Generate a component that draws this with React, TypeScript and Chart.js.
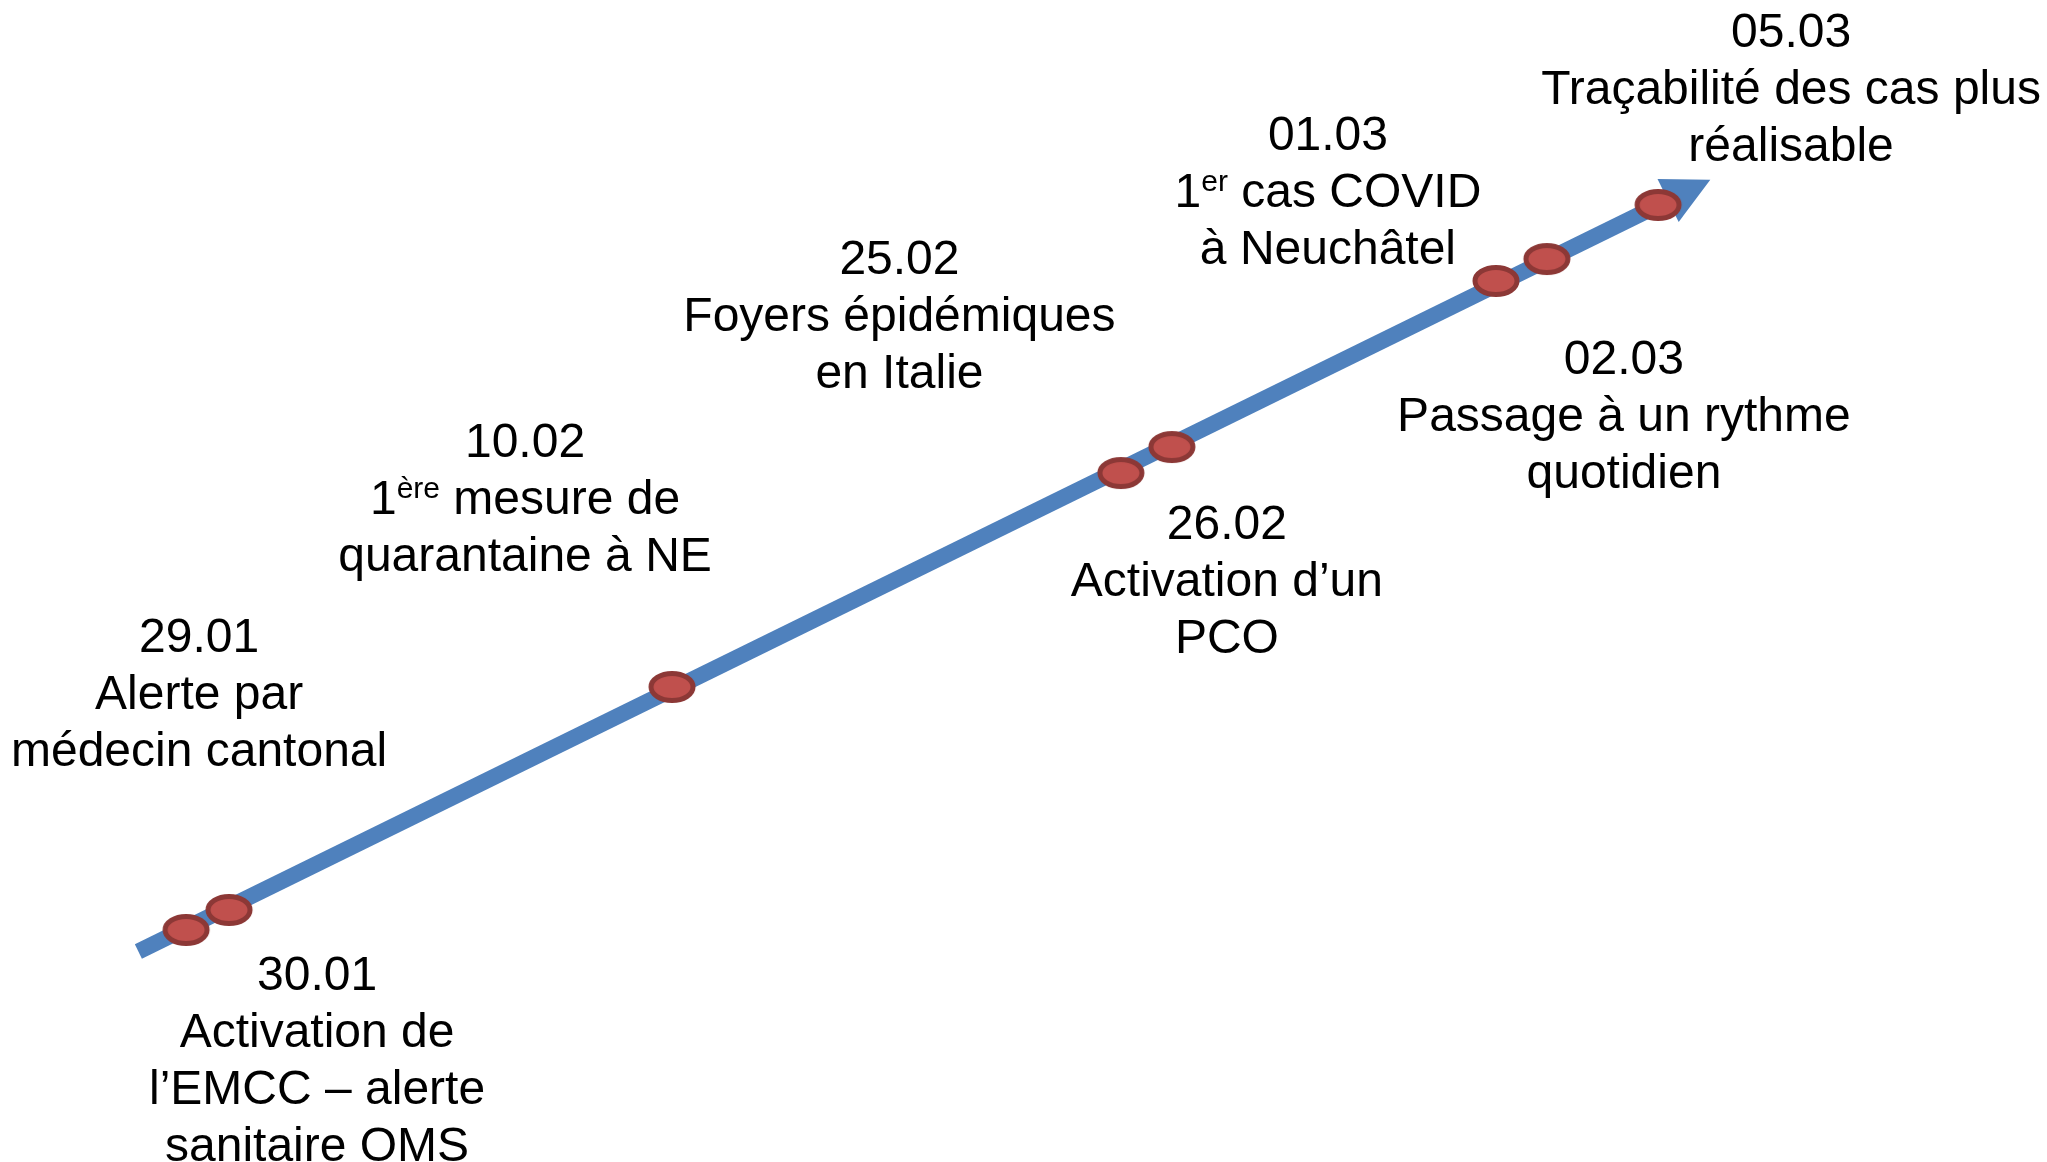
import { useEffect, useRef } from 'react';
import { Chart, registerables } from 'chart.js';

Chart.register(...registerables);

// ---- Data (hidden scale units 0..100 on both axes) ----
const eventDates = ['29.01', '30.01', '10.02', '25.02', '26.02', '01.03', '02.03', '05.03'];
const eventTexts: string[][] = [
  ['Alerte par', 'médecin cantonal'],
  ['Activation de', 'l’EMCC – alerte', 'sanitaire OMS'],
  ['1{ère} mesure de', 'quarantaine à NE'],
  ['Foyers épidémiques', 'en Italie'],
  ['Activation d’un', 'PCO'],
  ['1{er} cas COVID', 'à Neuchâtel'],
  ['Passage à un rythme', 'quotidien'],
  ['Traçabilité des cas plus', 'réalisable'],
];
const markerX = [9.09, 11.19, 32.83, 54.76, 57.25, 73.08, 75.57, 81.0];
const markerY = [19.97, 21.69, 40.88, 59.29, 61.53, 75.82, 77.71, 82.36];
const axisX = [6.76, 81.49];
const axisY = [18.12, 82.75];

// ---- Layout / style ----
const W = 2047;
const H = 1162;
const BLUE = '#4F81BD';
const RED = '#C0504D';
const RED_DARK = '#8C3836';
const FONT_FAMILY = '"Liberation Sans", Arial, sans-serif';
const FONT_SIZE = 48;
const SUP_SIZE = 30;
const SUP_RAISE = 16;
const LINE_HEIGHT = 57;
// label anchor offsets (px) from its marker: [centre x, first baseline y]
const labelOffsets: [number, number][] = [
  [13, -278],
  [88, 80],
  [-147, -229.5],
  [-221.5, -199.5],
  [55, 92],
  [-168, -131],
  [77, 115],
  [133, -158],
];

function makeMarker(): HTMLCanvasElement {
  const c = document.createElement('canvas');
  c.width = 50;
  c.height = 34;
  const ctx = c.getContext('2d')!;
  ctx.beginPath();
  ctx.ellipse(25, 17, 21, 13.5, 0, 0, Math.PI * 2);
  ctx.fillStyle = RED;
  ctx.fill();
  ctx.lineWidth = 5;
  ctx.strokeStyle = RED_DARK;
  ctx.stroke();
  return c;
}

type Seg = { t: string; sup: boolean };
function parseLine(s: string): Seg[] {
  const out: Seg[] = [];
  const re = /\{([^}]*)\}/g;
  let last = 0;
  let m: RegExpExecArray | null;
  while ((m = re.exec(s))) {
    if (m.index > last) out.push({ t: s.slice(last, m.index), sup: false });
    out.push({ t: m[1], sup: true });
    last = m.index + m[0].length;
  }
  if (last < s.length) out.push({ t: s.slice(last), sup: false });
  return out;
}

const arrowPlugin = {
  id: 'arrowHead',
  afterDatasetDraw(chart: any, args: any) {
    if (args.index !== 1) return;
    const pts = args.meta.data;
    if (!pts || pts.length < 2) return;
    const p0 = pts[pts.length - 2];
    const p1 = pts[pts.length - 1];
    const a = Math.atan2(p1.y - p0.y, p1.x - p0.x);
    const L = 47;
    const HW = 24;
    const ctx = chart.ctx;
    ctx.save();
    ctx.beginPath();
    ctx.moveTo(p1.x + L * Math.cos(a), p1.y + L * Math.sin(a));
    ctx.lineTo(p1.x - HW * Math.sin(a), p1.y + HW * Math.cos(a));
    ctx.lineTo(p1.x + HW * Math.sin(a), p1.y - HW * Math.cos(a));
    ctx.closePath();
    ctx.fillStyle = BLUE;
    ctx.fill();
    ctx.restore();
  },
};

const labelPlugin = {
  id: 'eventLabels',
  afterDraw(chart: any) {
    const ctx = chart.ctx;
    const xs = chart.scales.x;
    const ys = chart.scales.y;
    ctx.save();
    ctx.fillStyle = '#000000';
    ctx.textBaseline = 'alphabetic';
    ctx.textAlign = 'left';
    const mainFont = `${FONT_SIZE}px ${FONT_FAMILY}`;
    const supFont = `${SUP_SIZE}px ${FONT_FAMILY}`;
    eventDates.forEach((d, i) => {
      const px = xs.getPixelForValue(markerX[i]) + labelOffsets[i][0];
      const py = ys.getPixelForValue(markerY[i]) + labelOffsets[i][1];
      const lines = [d, ...eventTexts[i]];
      lines.forEach((ln, k) => {
        const segs = parseLine(ln);
        let total = 0;
        const widths = segs.map((s) => {
          ctx.font = s.sup ? supFont : mainFont;
          const w = ctx.measureText(s.t).width;
          total += w;
          return w;
        });
        let x = px - total / 2;
        const y = py + k * LINE_HEIGHT;
        segs.forEach((s, j) => {
          ctx.font = s.sup ? supFont : mainFont;
          ctx.fillText(s.t, x, s.sup ? y - SUP_RAISE : y);
          x += widths[j];
        });
      });
    });
    ctx.restore();
  },
};

export default function App() {
  const ref = useRef<HTMLCanvasElement | null>(null);
  useEffect(() => {
    document.body.style.margin = '0';
    document.body.style.overflow = 'hidden';
    if (!ref.current) return;
    const marker = makeMarker();
    const chart = new Chart(ref.current, {
      type: 'scatter',
      data: {
        datasets: [
          {
            label: 'events',
            data: markerX.map((x, i) => ({ x, y: markerY[i] })),
            pointStyle: marker as any,
            pointRadius: 20,
            showLine: false,
          },
          {
            label: 'axis',
            data: axisX.map((x, i) => ({ x, y: axisY[i] })),
            showLine: true,
            borderColor: BLUE,
            borderWidth: 16,
            borderCapStyle: 'butt',
            pointRadius: 0,
            pointHoverRadius: 0,
          } as any,
        ],
      },
      options: {
        animation: false,
        responsive: false,
        devicePixelRatio: 1,
        layout: { padding: 0, autoPadding: false },
        plugins: { legend: { display: false }, tooltip: { enabled: false } },
        events: [],
        scales: {
          x: { type: 'linear', min: 0, max: 100, display: false },
          y: { type: 'linear', min: 0, max: 100, display: false },
        },
      },
      plugins: [arrowPlugin, labelPlugin],
    });
    return () => chart.destroy();
  }, []);
  return (
    <div style={{ width: W, height: H, background: '#ffffff' }}>
      <canvas ref={ref} width={W} height={H} style={{ display: 'block' }} />
    </div>
  );
}
